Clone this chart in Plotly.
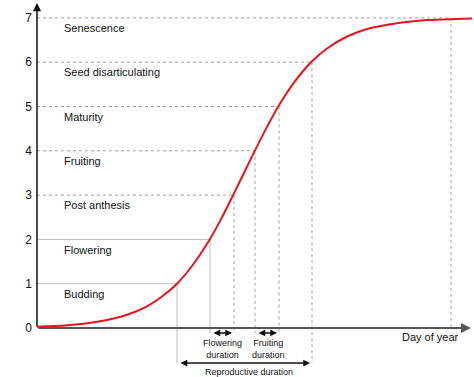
import plotly.graph_objects as go

# ---- data ----
curve_day = [0, 30, 60, 90, 110, 125, 140, 155, 173, 185, 197, 207, 218, 230, 242,
             257, 275, 290, 310, 330, 360, 390, 420, 435]
curve_stage = [0.03, 0.06, 0.14, 0.30, 0.49, 0.71, 1.0, 1.40, 2.01, 2.50, 3.04, 3.5, 4.01,
               4.54, 5.03, 5.54, 6.02, 6.31, 6.58, 6.75, 6.88, 6.95, 6.976, 6.984]

stage_levels = [1, 2, 3, 4, 5, 6, 7]
stage_day = [140, 173, 197, 218, 242, 275, 414]
stage_names = ["Budding", "Flowering", "Post anthesis", "Fruiting",
               "Maturity", "Seed disarticulating", "Senescence"]
y_ticks = [0, 1, 2, 3, 4, 5, 6, 7]

FONT = "Liberation Sans, Arial, sans-serif"
X_MAX = 435
Y_MIN, Y_MAX = -1.106, 7.359
ROW_SHORT = -0.11   # flowering / fruiting arrows row
ROW_LONG = -0.79    # reproductive arrow row

fig = go.Figure()
shapes = []
annotations = []

# guide lines
for lvl, d in zip(stage_levels, stage_day):
    solid = lvl <= 2
    style = dict(color="#bdbdbd", width=1) if solid else dict(color="#a0a0a0", width=1, dash="dot")
    shapes.append(dict(type="line", xref="x", yref="y", x0=0, x1=d, y0=lvl, y1=lvl,
                       line=style, layer="below"))
    if lvl in (1, 6):
        ybot = ROW_LONG
    elif lvl == 7:
        ybot = 0
    else:
        ybot = ROW_SHORT
    shapes.append(dict(type="line", xref="x", yref="y", x0=d, x1=d, y0=lvl, y1=ybot,
                       line=style, layer="below"))

# curve
fig.add_trace(go.Scatter(x=curve_day, y=curve_stage, mode="lines",
                         line=dict(color="#e3161e", width=2, shape="spline", smoothing=1),
                         hoverinfo="skip", showlegend=False))

# axes lines with arrows
annotations.append(dict(x=0, y=Y_MAX - 0.02, ax=0, ay=0, xref="x", yref="y", axref="x", ayref="y",
                        text="", showarrow=True, arrowhead=2, arrowsize=1.1, arrowwidth=1.5,
                        arrowcolor="#111"))
annotations.append(dict(x=X_MAX - 1, y=0, ax=0, ay=0, xref="x", yref="y", axref="x", ayref="y",
                        text="", showarrow=True, arrowhead=2, arrowsize=1, arrowwidth=2,
                        arrowcolor="#555"))

# stage labels
for lvl, name in zip(stage_levels, stage_names):
    annotations.append(dict(x=25, y=lvl - 0.23, xref="x", yref="y", text=name,
                            showarrow=False, xanchor="left", yanchor="middle",
                            font=dict(family=FONT, size=11, color="#111")))

# duration arrows
def darrow(x0, x1, y):
    annotations.append(dict(x=x1 - 2, y=y, ax=x0 + 2, ay=y, xref="x", yref="y", axref="x", ayref="y",
                            text="", showarrow=True, arrowhead=2, arrowside="end+start",
                            arrowsize=0.9, arrowwidth=1.5, arrowcolor="#111"))

darrow(stage_day[1], stage_day[2], ROW_SHORT)
darrow(stage_day[3], stage_day[4], ROW_SHORT)
darrow(stage_day[0], stage_day[5], ROW_LONG)

annotations.append(dict(x=(stage_day[1] + stage_day[2]) / 2, y=-0.47, xref="x", yref="y",
                        text="Flowering<br>duration", showarrow=False,
                        font=dict(family=FONT, size=9, color="#111")))
annotations.append(dict(x=(stage_day[3] + stage_day[4]) / 2 + 1, y=-0.47, xref="x", yref="y",
                        text="Fruiting<br>duration", showarrow=False,
                        font=dict(family=FONT, size=9, color="#111")))
annotations.append(dict(x=(stage_day[0] + stage_day[5]) / 2 + 4, y=-0.99, xref="x", yref="y",
                        text="Reproductive duration", showarrow=False,
                        font=dict(family=FONT, size=9, color="#111")))
annotations.append(dict(x=393, y=-0.2, xref="x", yref="y", text="Day of year", showarrow=False,
                        font=dict(family=FONT, size=11, color="#111")))
annotations.append(dict(x=-29, y=3.8, xref="x", yref="y", text="Phenological stage",
                        showarrow=False, textangle=-90,
                        font=dict(family=FONT, size=12, color="#111")))

fig.update_layout(
    width=474, height=377,
    margin=dict(l=37, r=2, t=2, b=0),
    paper_bgcolor="white", plot_bgcolor="white",
    shapes=shapes, annotations=annotations,
    xaxis=dict(range=[0, X_MAX], visible=False, fixedrange=True),
    yaxis=dict(range=[Y_MIN, Y_MAX], tickvals=y_ticks, ticktext=[str(t) for t in y_ticks],
               showgrid=False, zeroline=False, showline=False, ticks="",
               ticklabelstandoff=4, fixedrange=True,
               tickfont=dict(family=FONT, size=12, color="#111")),
    showlegend=False,
)

fig.write_html("out.html", config={"displayModeBar": False},
               post_script="document.body.style.margin='0';document.body.style.overflow='hidden';")
